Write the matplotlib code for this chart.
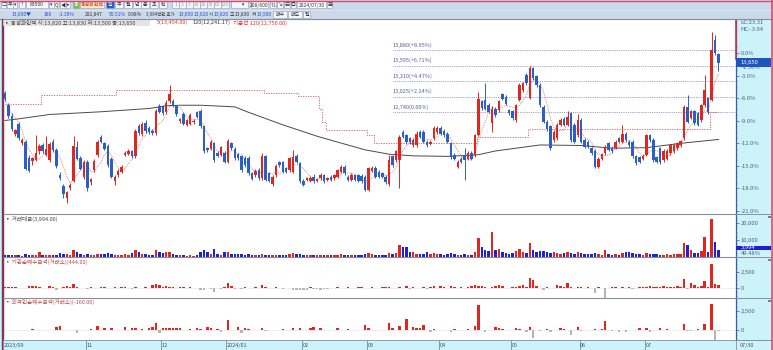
import matplotlib
matplotlib.use("Agg")
import matplotlib.pyplot as plt
import matplotlib.transforms as mtransforms
from matplotlib.patches import Rectangle
import numpy as np
import pandas as pd

plt.rcParams['font.family'] = ['Noto Sans CJK KR', 'DejaVu Sans']

# daily candles 2023/09/21 .. 2024/07/30 (won)
opens = [
    13090, 12880, 12680, 12350, 12520, 12170, 12200, 11900, 11840, 11870,
    12020, 12140, 11960, 11860, 12190, 12050, 11590, 11390, 11170, 11340,
    11480, 12100, 11900, 11560, 11830, 11450, 11680, 11950, 12280, 12170,
    12120, 11880, 11470, 11590, 11650, 11960, 11980, 12020, 11930, 12480,
    12340, 12550, 12460, 12400, 12360, 12850, 12850, 12740, 12950, 12950,
    12850, 12580, 12700, 12510, 12530, 12560, 12740, 12770, 12480, 12080,
    12070, 12170, 11990, 11960, 11990, 11830, 12170, 12070, 11970, 11930,
    11900, 11900, 11620, 11590, 11680, 11530, 11930, 11620, 11420, 11590,
    11820, 11820, 11710, 11680, 11650, 11940, 11800, 11480, 11500, 11480,
    11560, 11480, 11530, 11580, 11500, 11560, 11530, 11560, 11650, 11740,
    11560, 11500, 11580, 11580, 11570, 11560, 11310, 11670, 11720, 11650,
    11620, 11560, 11420, 11930, 11860, 11860, 12380, 12320, 12260, 12140,
    12140, 12380, 12380, 12200, 12160, 12260, 12380, 12450, 12400, 12350,
    12170, 11960, 11740, 11890, 11950, 11890, 11990, 11950, 12330, 12940,
    12970, 12880, 12540, 12810, 12780, 13070, 13030, 12780, 12760, 12600,
    12970, 13150, 13430, 13010, 13550, 13400, 13240, 12840, 12560, 12480,
    12230, 12260, 12510, 12620, 12510, 12720, 12510, 12320, 12600, 12230,
    12200, 12080, 12030, 11740, 11890, 11990, 12170, 12090, 12090, 12260,
    12200, 12350, 12200, 12200, 11930, 11910, 11890, 11960, 12320, 12230,
    11910, 12080, 11860, 11890, 11990, 12020, 12080, 12140, 12260, 12840,
    12640, 12760, 12720, 12600, 12870, 13000, 12970, 14070, 13820,
]
highs = [
    13130, 12920, 12720, 12440, 12570, 12260, 12230, 11950, 11920, 12320,
    12150, 12180, 12300, 12190, 12250, 12080, 11650, 11420, 11300, 11440,
    12300, 12220, 11940, 11860, 11870, 11540, 11880, 12230, 12330, 12200,
    12150, 11910, 11580, 11700, 11770, 12030, 12060, 12050, 12440, 12520,
    12560, 12590, 12490, 12430, 12800, 12890, 12880, 12960, 13250, 12990,
    12880, 12640, 12740, 12620, 12720, 12610, 12770, 12800, 12510, 12110,
    12230, 12200, 12020, 12120, 12020, 12250, 12200, 12100, 12000, 11960,
    11930, 11930, 11650, 11690, 11710, 12000, 11960, 11650, 11590, 11790,
    11850, 11850, 11740, 11920, 12050, 11970, 11830, 11510, 11560, 11570,
    11600, 11540, 11620, 11610, 11550, 11590, 11610, 11700, 11770, 11770,
    11590, 11620, 11610, 11600, 11600, 11580, 11740, 11760, 11750, 11680,
    11650, 11590, 11950, 11960, 12050, 12320, 12420, 12350, 12290, 12260,
    12390, 12420, 12420, 12230, 12230, 12480, 12480, 12480, 12430, 12380,
    12200, 11990, 11860, 11920, 12080, 12020, 12020, 12350, 13120, 12970,
    13270, 12910, 12850, 12840, 12970, 13100, 13060, 12810, 12790, 12900,
    13270, 13300, 13460, 13600, 13580, 13430, 13270, 12870, 12590, 12510,
    12410, 12540, 12630, 12650, 12760, 12750, 12540, 12700, 12630, 12260,
    12230, 12110, 12060, 11920, 12000, 12140, 12200, 12120, 12230, 12290,
    12510, 12380, 12230, 12230, 11960, 11940, 11970, 12350, 12350, 12260,
    11940, 12110, 12060, 12060, 12160, 12170, 12200, 12240, 12870, 13060,
    12790, 12790, 12750, 12900, 13430, 13030, 14210, 14160, 13830,
]
lows = [
    12950, 12640, 12400, 12300, 12230, 12140, 11680, 11640, 11780, 11840,
    11980, 11990, 11930, 11830, 12010, 11720, 11500, 11160, 11070, 11310,
    11450, 11860, 11680, 11520, 11300, 11400, 11640, 11920, 12170, 12040,
    11740, 11530, 11400, 11560, 11620, 11930, 11950, 11900, 11900, 12330,
    12300, 12360, 12340, 12330, 12330, 12720, 12690, 12710, 12920, 12830,
    12670, 12550, 12500, 12480, 12500, 12530, 12630, 12450, 12000, 12010,
    12040, 11830, 11910, 11930, 11800, 11800, 12050, 11870, 11870, 11650,
    11740, 11590, 11490, 11560, 11500, 11500, 11470, 11450, 11390, 11560,
    11740, 11620, 11620, 11650, 11620, 11800, 11440, 11380, 11470, 11450,
    11440, 11450, 11500, 11440, 11470, 11470, 11500, 11530, 11620, 11590,
    11470, 11470, 11470, 11450, 11440, 11290, 11290, 11640, 11530, 11530,
    11530, 11430, 11380, 11740, 11830, 11340, 12260, 12160, 12160, 12110,
    12110, 12260, 12170, 12110, 12130, 12230, 12350, 12320, 12290, 12170,
    11890, 11860, 11710, 11800, 11500, 11860, 11860, 11920, 12300, 12790,
    12780, 12720, 12380, 12660, 12750, 12960, 12870, 12690, 12600, 12570,
    12940, 13120, 13240, 12980, 13340, 13210, 12840, 12540, 12400, 12050,
    12200, 12230, 12480, 12480, 12480, 12200, 12170, 12290, 12170, 12080,
    12080, 11960, 11710, 11710, 11860, 11960, 12020, 11990, 12060, 12170,
    12170, 12200, 12110, 11900, 11770, 11800, 11860, 11930, 12200, 11830,
    11800, 11790, 11830, 11860, 11960, 11990, 12050, 12110, 12230, 12540,
    12610, 12510, 12480, 12570, 12840, 12710, 12940, 13800, 13500,
]
closes = [
    12990, 12680, 12440, 12410, 12260, 12230, 11700, 11670, 11900, 11990,
    12120, 12020, 12060, 12150, 12040, 11760, 11530, 11240, 11280, 11410,
    12120, 11890, 11700, 11830, 11340, 11510, 11850, 12190, 12200, 12070,
    11770, 11560, 11550, 11660, 11740, 12000, 12030, 11930, 12400, 12360,
    12530, 12390, 12370, 12360, 12770, 12750, 12720, 12920, 13070, 12860,
    12700, 12610, 12530, 12590, 12690, 12580, 12660, 12480, 12030, 12040,
    12200, 11860, 11940, 12100, 11830, 12220, 12080, 11900, 11900, 11680,
    11770, 11620, 11520, 11670, 11530, 11940, 11500, 11480, 11560, 11760,
    11770, 11650, 11650, 11900, 11910, 11830, 11470, 11410, 11530, 11540,
    11470, 11510, 11590, 11470, 11530, 11500, 11580, 11680, 11740, 11620,
    11500, 11590, 11500, 11480, 11470, 11310, 11710, 11720, 11560, 11560,
    11560, 11450, 11860, 11770, 12020, 12290, 12290, 12190, 12190, 12230,
    12350, 12290, 12200, 12140, 12200, 12450, 12450, 12350, 12320, 12200,
    11920, 11890, 11830, 11830, 11860, 11990, 11890, 12320, 12990, 12820,
    12810, 12750, 12810, 12690, 12940, 12990, 12900, 12720, 12630, 12870,
    13240, 13270, 13270, 13560, 13370, 13240, 12880, 12570, 12430, 12080,
    12380, 12510, 12600, 12510, 12660, 12230, 12200, 12600, 12200, 12110,
    12110, 11990, 11740, 11890, 11970, 12110, 12050, 12020, 12200, 12200,
    12350, 12230, 12140, 11930, 11800, 11830, 11940, 12320, 12230, 11860,
    11830, 11820, 12030, 12030, 12130, 12140, 12170, 12210, 12840, 12570,
    12760, 12540, 12510, 12870, 13150, 12740, 13880, 13830, 13650,
]
# 거래대금 (백만원)
volume = [
    1200, 1000, 1400, 900, 1100, 800, 1500, 1300, 900, 1200,
    3000, 1100, 900, 1300, 1000, 1400, 2400, 1800, 1500, 1200,
    4000, 3000, 1600, 1400, 1800, 900, 1200, 1500, 2000, 2000,
    2200, 1800, 1000, 1100, 900, 2000, 1400, 2400, 4400, 3000,
    2000, 1600, 1200, 1000, 4400, 3000, 2400, 3000, 3000, 2000,
    1400, 900, 1000, 800, 1000, 800, 1200, 3000, 4400, 3000,
    1800, 5000, 2000, 1200, 3000, 3000, 1800, 2000, 1600, 1800,
    1400, 1600, 1200, 1000, 1200, 1800, 1400, 1000, 1100, 1200,
    1000, 900, 1000, 1800, 2400, 1600, 1800, 1400, 1000, 1200,
    1400, 1000, 1200, 1400, 900, 1200, 1000, 1400, 1600, 1200,
    1000, 900, 1200, 1000, 1400, 2000, 2400, 1600, 1400, 1200,
    1000, 1400, 2600, 2000, 2400, 7000, 6000, 6000, 3000, 3000,
    2000, 2000, 2000, 3000, 1600, 2400, 1800, 1600, 1400, 1800,
    2400, 1600, 1400, 1200, 2000, 1400, 1200, 3000, 11200, 5700,
    4000, 3700, 14700, 4000, 5000, 3000, 2400, 2000, 2400, 3700,
    5000, 3000, 2400, 8200, 4000, 3000, 3700, 3700, 3000, 2400,
    3000, 2400, 2000, 2400, 3000, 2400, 2000, 3000, 2400, 2000,
    1800, 1600, 2400, 1800, 1400, 4000, 1600, 1400, 1600, 1400,
    2400, 3000, 3000, 2400, 1800, 1600, 1400, 2400, 1800, 2000,
    1600, 1400, 1400, 1600, 1400, 1800, 1800, 2000, 8200, 7100,
    4000, 2400, 2400, 3700, 11800, 3000, 22400, 8600, 3994,
]
# 기관 순매수금액 (백만원)
inst = [
    50, 150, 150, 150, -40, 30, -30, 300, 300, 200,
    40, -40, 30, 200, 50, -400, -30, 40, 300, 50,
    600, 60, -40, 30, -150, 40, -30, 30, 100, 40,
    -40, 30, 40, -30, 100, 40, 30, -150, 40, -40,
    30, 40, -30, 400, 600, 400, 50, 300, 150, 40,
    -30, 150, 40, -30, 50, 30, -40, -400, -300, -40,
    -250, -600, 30, -150, 40, 750, 250, -250, 30, -150,
    40, -30, 30, 40, -40, 500, 150, 30, -40, 40,
    30, -150, -40, 30, -300, -350, -400, -300, -350, 40,
    -250, -250, -300, -250, -250, 30, -40, 40, 30, -30,
    40, -30, 30, 40, 150, -40, 30, 40, -30, 30,
    150, 40, 60, 30, -40, 40, 30, 200, -250, 40,
    30, -40, 40, -150, 40, 200, 30, 200, 40, -30,
    300, 40, -30, 40, 30, 40, 300, 400, 300, 300,
    40, 30, 60, 250, 400, 300, -40, 30, 40, 60,
    300, 400, 40, 1450, 1250, 300, 30, -300, 40, -40,
    30, 400, 250, 40, 780, 150, 30, 150, 40, -30,
    40, 30, -780, 40, 30, -1560, 30, 150, 40, -40,
    150, 30, 40, -200, 30, 40, 50, 150, 200, 100,
    150, 100, 200, 150, 100, 150, 300, 60, 1300, -250,
    780, 400, 80, 300, 1040, 60, 3750, 520, 444,
]
# 외국인 순매수금액 (백만원)
foreign = [
    40, -40, 30, 40, -30, 40, 30, 40, 180, 40,
    30, -40, 40, 30, 40, 440, 530, 40, -30, 40,
    60, -440, 30, 40, 30, 130, 40, 530, 40, 260,
    40, 260, 40, 30, 40, 350, 40, 260, 260, 40,
    130, 30, 260, 440, 880, -440, 260, 260, 260, 260,
    260, 260, 40, -40, 130, 40, 260, 180, 40, 440,
    260, 40, 180, -220, 40, 1320, 40, -40, 350, -440,
    220, 180, 40, 30, -40, 220, -130, 30, 40, 30,
    40, 130, 30, 40, 260, 30, 260, 40, 30, 260,
    350, 40, 260, 30, -40, 40, 30, 260, 40, 30,
    130, 40, -30, 40, 30, 660, 260, 40, 30, 40,
    30, 40, 880, 260, 40, 530, 40, 1500, 40, 350,
    260, 260, 660, 40, -220, 130, 40, 30, 40, 30,
    -220, 130, 40, 30, 40, 90, 30, 530, 3300, 40,
    -220, 30, 40, 350, 260, 130, 40, 30, 40, 260,
    130, 40, -220, 350, -1100, 40, -130, 30, 130, -220,
    40, 30, 260, 130, 40, -660, 40, 350, -130, 30,
    40, 30, 130, 40, 130, 1230, 40, -130, 30, -220,
    40, -220, 30, 40, 30, 260, 40, 260, -260, 30,
    40, 220, 30, 130, 40, 30, 40, 60, 790, -130,
    -180, 40, 130, 40, 790, 40, 3430, -1540, -160,
]

# 120일 이동평균
ma120_idx = [0, 4, 13, 28, 42, 47, 51, 57, 67, 71, 81, 91, 96, 105, 112,
             119, 129, 138, 143, 156, 168, 177, 187, 197, 208]
ma120_val = [12590, 12620, 12700, 12750, 12810, 12860, 12870, 12870, 12840,
             12740, 12510, 12300, 12210, 12050, 11970, 11940, 11930, 11960,
             12030, 12140, 12130, 12080, 12090, 12170, 12241]
# 기준선 120 step levels
base_start = [0, 11, 33, 76, 86, 92, 93, 94, 106, 108, 138, 153, 206]
base_level = [12890, 13050, 13150, 13100, 13040, 12810, 12570, 12420, 12320,
              12170, 12280, 12440, 12750]

fib_levels = [13880, 13595, 13310, 13025, 12740]
fib_labels = ["13,880(+8.95%)", "13,595(+6.71%)", "13,310(+4.47%)",
              "13,025(+2.24%)", "12,740(0.00%)"]
fib_start = 113

month_idx = [0, 24, 46, 65, 87, 106, 127, 148, 168, 187]
month_labels = ["2023/09", "11", "12", "2024/01", "02", "03", "04", "05", "06", "07"]

ref_close = 13830
pct_ticks = [0, -3, -6, -9, -12, -15, -18, -21]

RED = '#e0261e'
BLUE = '#2a5fca'
VBLUE = '#1c22d8'
GRAY = '#b4b4b4'
CYAN = '#cdf3fa'
AXBLUE = '#3a5aa8'
LBL = '#4f5f80'
FS = 4.0

o = np.array(opens)
h = np.array(highs)
l = np.array(lows)
c = np.array(closes)
n = len(c)
x = np.arange(n)
up = c >= o

fig = plt.figure(figsize=(7.73, 3.5), dpi=100, facecolor=CYAN)


def axpx(x0, y0, x1, y1, **kw):
    return fig.add_axes([x0 / 773, 1 - y1 / 350, (x1 - x0) / 773, (y1 - y0) / 350], **kw)


XL = (-0.583, 213.12)


def style_panel(ax):
    ax.set_xlim(*XL)
    ax.set_facecolor('white')
    ax.spines['bottom'].set_visible(False)
    ax.spines['top'].set_color('#8a8f98')
    ax.spines['top'].set_linewidth(0.8)
    ax.spines['left'].set_color('#8a3050')
    ax.spines['left'].set_linewidth(1.0)
    ax.spines['right'].set_color(AXBLUE)
    ax.spines['right'].set_linewidth(0.9)
    ax.set_xticks([])
    ax.yaxis.tick_right()
    ax.tick_params(axis='y', which='major', length=2, width=0.5, color=AXBLUE,
                   labelsize=FS + 0.2, labelcolor=LBL, pad=1.5)
    ax.tick_params(axis='y', which='minor', length=1, width=0.4, color=AXBLUE)


# ---- main price panel
ax = axpx(3, 19, 736, 214)
style_panel(ax)
ax.set_ylim(10871, 14455)

ma5 = pd.Series(c).rolling(5, min_periods=1).mean()
ax.plot(x, ma5, color='#e06a6a', lw=0.6, ls=(0, (1, 1.2)), zorder=2)
ax.plot(ma120_idx, ma120_val, color='#4a4a4a', lw=0.7, zorder=2)

base = np.empty(n)
ends = base_start[1:] + [n]
for s, e, lv in zip(base_start, ends, base_level):
    base[s:e] = lv
ax.step(x, base, where='mid', color='#e05555', lw=0.6, ls=(0, (1.5, 1.5)), zorder=2)

for lv, lab in zip(fib_levels, fib_labels):
    ax.hlines(lv, fib_start, XL[1], color='#8080c8', lw=0.6, ls=(0, (1, 1.2)), zorder=1)
    ax.text(fib_start + 0.1, lv + 45, lab, fontsize=FS, color='#5d5d9d',
            ha='left', va='bottom')

cols = np.where(up, RED, BLUE)
ax.vlines(x, l, h, colors=cols, lw=0.7, zorder=3)
body_b = np.minimum(o, c)
body_h = np.maximum(np.abs(c - o), 15)
ax.bar(x, body_h, bottom=body_b, width=0.72, color=cols, linewidth=0, zorder=4)

pct_pos = [ref_close * (1 + p / 100) for p in pct_ticks]
ax.set_yticks(pct_pos)
ax.set_yticklabels([f"{p:.1f}%" for p in pct_ticks])
ax.set_yticks([ref_close * (1 + p / 100) for p in np.arange(-21, 1.5, 0.75)], minor=True)

tr = mtransforms.blended_transform_factory(ax.transAxes, ax.transData)
ax.plot([1, 1], [14455, 13720], transform=tr, color='#d83040', lw=1.2, clip_on=False, zorder=6)
ax.add_patch(Rectangle((1.0, c[-1] - 80), 0.048, 160, transform=tr, facecolor='#1f55c0',
                       edgecolor='none', clip_on=False, zorder=6))
ax.text(1.006, c[-1], f"{c[-1]:,}", transform=tr, fontsize=FS + 0.2, color='white',
        va='center', ha='left', zorder=7, clip_on=False)
ax.text(1.008, 13555, "-1.30%", transform=tr, fontsize=FS + 0.2, color=LBL,
        va='center', ha='left', clip_on=False)
ax.text(1.006, 14385, "LC:23.31", transform=tr, fontsize=FS + 0.2, color=LBL,
        va='center', ha='left', clip_on=False)
ax.text(1.006, 14255, "HC:-3.94", transform=tr, fontsize=FS + 0.2, color=LBL,
        va='center', ha='left', clip_on=False)

# legend row
ax.add_patch(Rectangle((0, 0.962), 0.2, 0.04, transform=ax.transAxes,
                       facecolor='#e4e4e4', edgecolor='none', zorder=5))
ax.text(0.0015, 0.982, "▪ 동성화인텍 시:13,820 고:13,830 저:13,500 종:13,650",
        transform=ax.transAxes, fontsize=FS, color='#444444', va='center', zorder=6)
ax.text(0.2101, 0.982, "5(13,454.00)", transform=ax.transAxes, fontsize=FS,
        color='#e03030', va='center')
ax.text(0.2592, 0.982, "120(12,241.17)", transform=ax.transAxes, fontsize=FS,
        color='#333333', va='center')
ax.text(0.3138, 0.982, "기준선 120(12,750.00)", transform=ax.transAxes, fontsize=FS,
        color='#e03030', va='center')

# ---- 거래대금
axv = axpx(3, 214, 736, 257)
style_panel(axv)
axv.set_ylim(0, 25300)
vcols = np.where(up, RED, VBLUE)
axv.bar(x, volume, width=0.72, color=vcols, linewidth=0)
axv.set_yticks([10000, 20000])
axv.set_yticklabels(["10,000", "20,000"])
axv.set_yticks(np.arange(2500, 25000, 2500), minor=True)
trv = mtransforms.blended_transform_factory(axv.transAxes, axv.transData)
axv.add_patch(Rectangle((1.0, volume[-1]), 0.048, 2700, transform=trv, facecolor='#1f1fd0',
                        edgecolor='none', clip_on=False, zorder=6))
axv.text(1.006, volume[-1] + 1350, f"{volume[-1]:,}", transform=trv, fontsize=FS + 0.2,
         color='white', va='center', zorder=7, clip_on=False)
axv.text(1.006, 2300, "49.48%", transform=trv, fontsize=FS + 0.2, color=LBL,
         va='center', clip_on=False)
axv.text(0.003, 0.88, "▪ 거래대금(3,994.00)", transform=axv.transAxes, fontsize=FS,
         color='#444444', va='center')

# ---- 기관
axi = axpx(3, 257, 736, 298)
style_panel(axi)
axi.set_ylim(-1610, 4800)
axi.axhline(0, color='#c8c8c8', lw=0.4, ls=(0, (2, 2)))
icols = np.where(np.array(inst) >= 0, RED, GRAY)
axi.bar(x, inst, width=0.72, color=icols, linewidth=0)
axi.set_yticks([0, 2500])
axi.set_yticklabels(["0", "2,500"])
axi.set_yticks(np.arange(-1250, 4800, 625), minor=True)
axi.text(0.003, 0.885, "▪ 기관순매수금액(거래소)(444.00)", transform=axi.transAxes,
         fontsize=FS, color='#c04848', va='center')

# ---- 외국인
axf = axpx(3, 298, 736, 340)
style_panel(axf)
axf.set_ylim(-1337, 4280)
axf.axhline(0, color='#c8c8c8', lw=0.4, ls=(0, (2, 2)))
fcols = np.where(np.array(foreign) >= 0, RED, GRAY)
axf.bar(x, foreign, width=0.72, color=fcols, linewidth=0)
axf.set_yticks([0, 2500])
axf.set_yticklabels(["0", "2,500"])
axf.set_yticks(np.arange(-1250, 4280, 625), minor=True)
axf.text(0.003, 0.9, "▪ 외국인순매수금액(거래소)(-160.00)", transform=axf.transAxes,
         fontsize=FS, color='#c04848', va='center')

# ---- date strip
axd = axpx(3, 340, 736, 350)
axd.set_xlim(*XL)
axd.set_ylim(0, 1)
axd.set_facecolor(CYAN)
for s in ['top', 'bottom', 'left', 'right']:
    axd.spines[s].set_color('#8a8f98')
    axd.spines[s].set_linewidth(0.6)
axd.set_xticks([])
axd.set_yticks([])
for mi, ml in zip(month_idx, month_labels):
    if mi > 0:
        axd.axvline(mi - 0.5, color='#7a8a9a', lw=0.6)
    axd.text(mi - 0.3, 0.45, ml, fontsize=FS, color='#44506a', va='center', ha='left')

# ---- toolbar overlay
ov = fig.add_axes([0, 0, 1, 1], zorder=5)
ov.set_xlim(0, 773)
ov.set_ylim(350, 0)
ov.axis('off')
ov.add_patch(Rectangle((0, 0), 773, 19, facecolor='#cbd9ea', edgecolor='none'))
ov.plot([0, 773], [0.5, 0.5], color='#d0506a', lw=1.0)
ov.plot([0, 773], [9.5, 9.5], color='#dde6f2', lw=0.6)
ov.plot([0, 773], [19, 19], color='#8a8f98', lw=0.8)
for yy in [214, 257, 298, 340]:
    ov.plot([736, 771], [yy, yy], color='#8a8f98', lw=0.7)
ov.plot([771.5, 771.5], [0, 350], color='#d0506a', lw=1.2)
ov.plot([1.5, 1.5], [19, 350], color='#8a3050', lw=1.0)
for yy in [215.5, 258.5, 299.5]:
    ov.add_patch(Rectangle((767.5, yy), 3, 2.5, facecolor='#7a8088', edgecolor='none'))
ov.text(740, 345, "07/30", fontsize=FS, color='#44506a', va='center')


def btn(x0, w, s, fc='#f4f6fa', tc='#333333', y0=1.2, hgt=7):
    ov.add_patch(Rectangle((x0, y0), w, hgt, facecolor=fc, edgecolor='#8fa0b8', lw=0.4))
    ov.text(x0 + w / 2, y0 + hgt / 2 + 0.3, s, fontsize=FS - 0.4, color=tc,
            ha='center', va='center')


row1 = [(1, 5, '□'), (7, 6, '주'), (13, 4, '▾'), (19, 6, '?'), (26, 22, '83500'),
        (49, 5, '▾'), (54, 5, 'Q'), (60, 6, '◀'), (66, 4, '▸')]
for x0, w, s in row1:
    btn(x0, w, s)
btn(73, 6, '종', fc='#7bc043', tc='white')
btn(80, 24, '동성화인텍', fc='#fde4cf', tc='#d04000')
btn(106, 8, '일', fc='#2860c8', tc='white')
for k, s in enumerate(['주', '월', '년', '분', '초', '틱']):
    btn(115 + k * 8.8, 8, s)
nums = ['1', '3', '5', '10', '20', '30', '60', '120']
nx = [172, 179, 186, 193, 200, 207, 214, 221]
for x0, s in zip(nx, nums):
    btn(x0, 7 if s != '120' else 8, s, tc='#9aa4b4')
btn(231, 17, '       ▾')
btn(251, 17, '208/600', fc='white')
btn(270, 6, '⇅')
btn(277, 6, '↘')
btn(284, 6, '▤')
btn(291, 5, '◎')
btn(297, 29, '2024/07/30', fc='white')
btn(327, 5, '▦')

row2 = [(12, '13,650▼', '#2050d0', 3.5), (44, '180', '#2050d0', 3.5),
        (59, '-1.30%', '#2050d0', 3.5), (85, '292,847', '#333333', 3.5),
        (109, '50.51%', '#2050d0', 3.5), (128, '0.98%', '#333333', 3.5),
        (146, '3,994백만 호가', '#333333', 3.2), (179, '13,650', '#2050d0', 3.5),
        (194, '13,620', '#2050d0', 3.5), (209, '시', '#333333', 3.5),
        (214, '13,820', '#2050d0', 3.5), (230, '고', '#333333', 3.5),
        (235, '13,830', '#333333', 3.5), (252, '저', '#333333', 3.5),
        (257, '13,500', '#2050d0', 3.5)]
for x0, s, col, fs in row2:
    ov.text(x0, 14.4, s, fontsize=fs, color=col, va='center', ha='left')
btn(273, 14, '매수', y0=10.6, hgt=7.4)
btn(288, 14, '매도', y0=10.6, hgt=7.4)
btn(303, 7, '멀', y0=10.6, hgt=7.4)

fig.savefig('out.png', dpi=100, facecolor=CYAN)
